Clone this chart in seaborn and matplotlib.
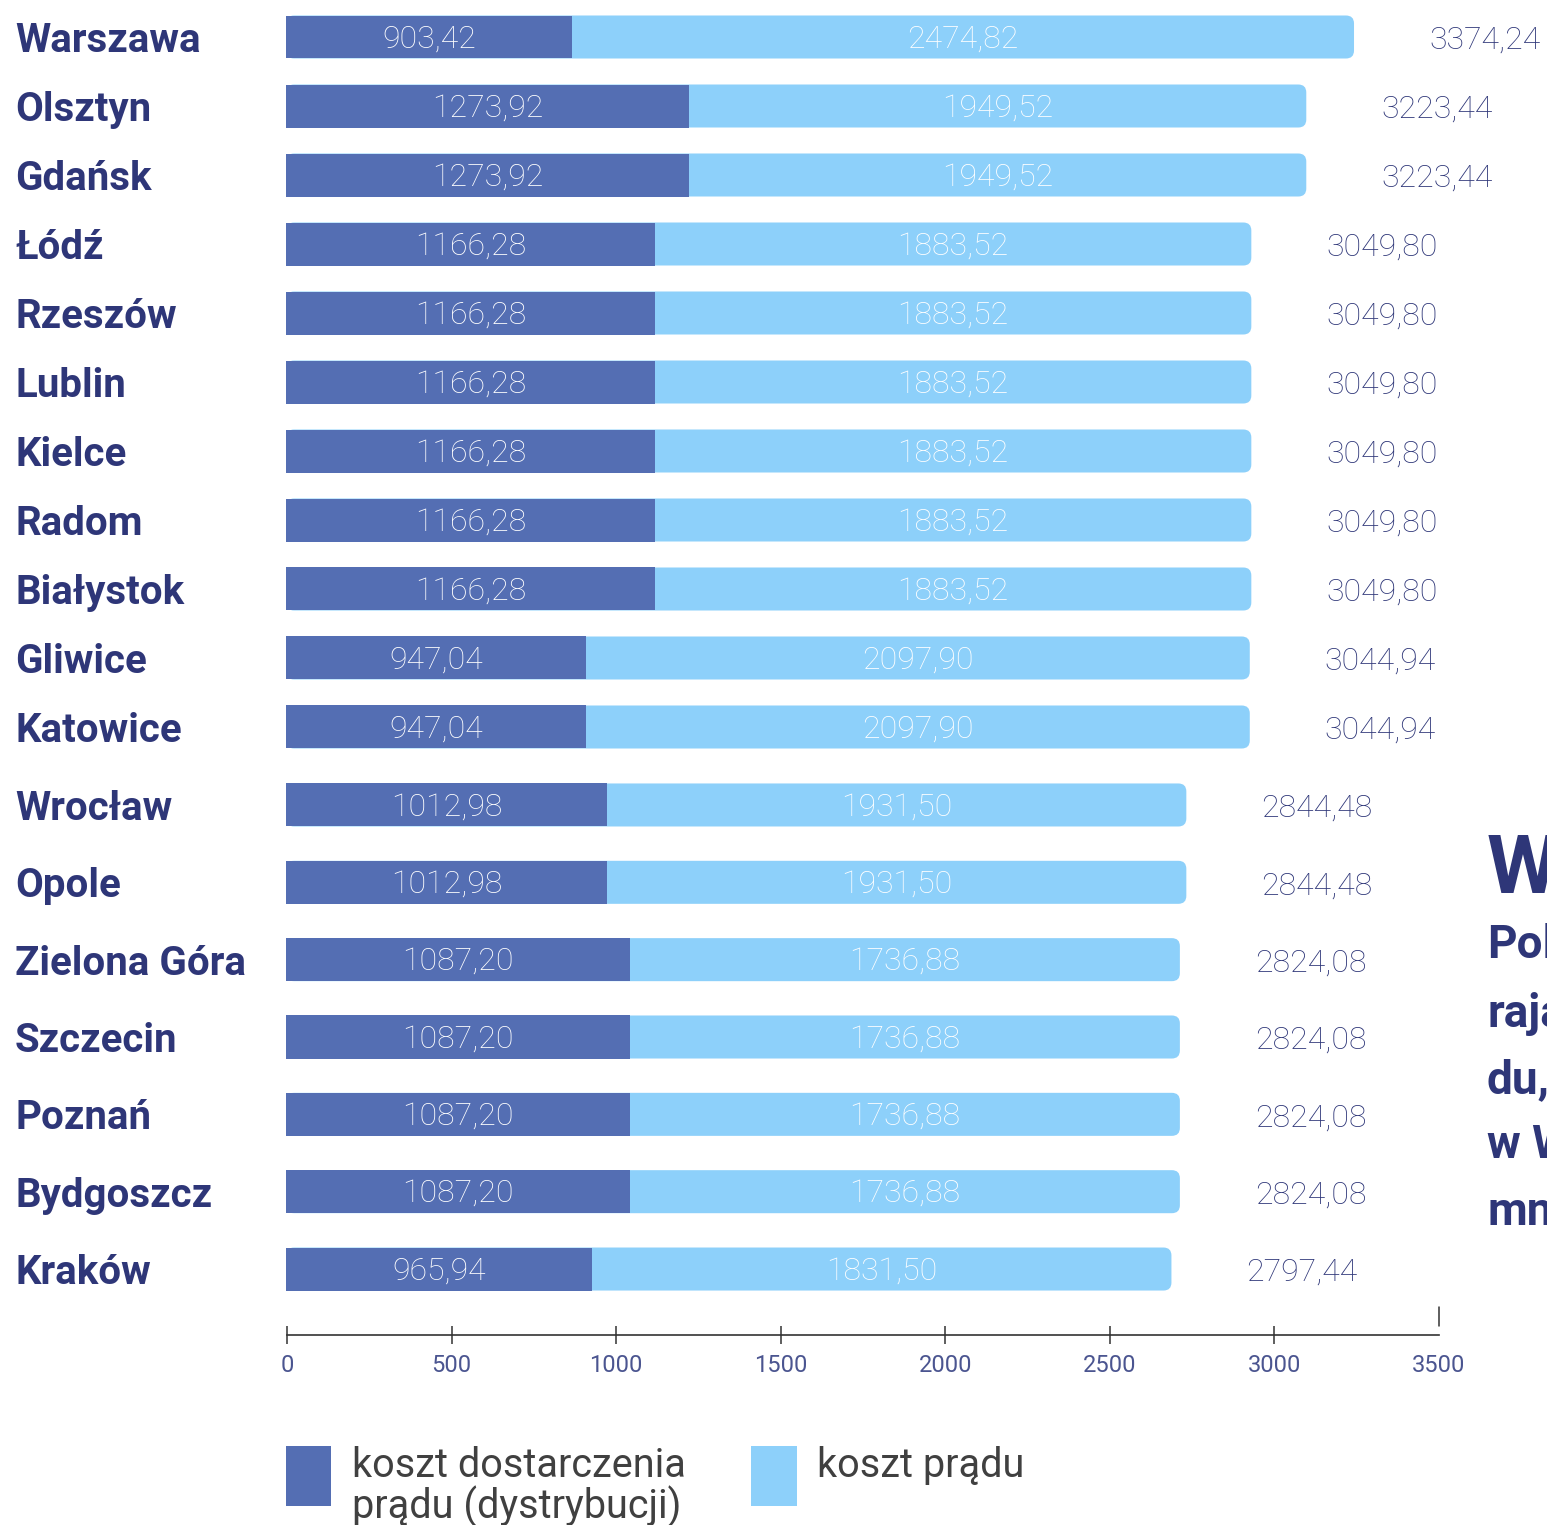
import matplotlib
matplotlib.use("Agg")
import matplotlib.pyplot as plt
import seaborn as sns
import pandas as pd
from matplotlib.patches import FancyBboxPatch, Rectangle

# ---------------- data ----------------
cities_top = ["Warszawa", "Olsztyn", "Gdańsk", "Łódź", "Rzeszów", "Lublin",
              "Kielce", "Radom", "Białystok", "Gliwice", "Katowice"]
dist_top = [903.42, 1273.92, 1273.92, 1166.28, 1166.28, 1166.28,
            1166.28, 1166.28, 1166.28, 947.04, 947.04]
energy_top = [2474.82, 1949.52, 1949.52, 1883.52, 1883.52, 1883.52,
              1883.52, 1883.52, 1883.52, 2097.90, 2097.90]
total_top = [3374.24, 3223.44, 3223.44, 3049.80, 3049.80, 3049.80,
             3049.80, 3049.80, 3049.80, 3044.94, 3044.94]

cities_bot = ["Wrocław", "Opole", "Zielona Góra", "Szczecin", "Poznań",
              "Bydgoszcz", "Kraków"]
dist_bot = [1012.98, 1012.98, 1087.20, 1087.20, 1087.20, 1087.20, 965.94]
energy_bot = [1931.50, 1931.50, 1736.88, 1736.88, 1736.88, 1736.88, 1831.50]
total_bot = [2844.48, 2844.48, 2824.08, 2824.08, 2824.08, 2824.08, 2797.44]

scale_ticks = [0, 500, 1000, 1500, 2000, 2500, 3000, 3500]
legend_labels = ["koszt dostarczenia\nprądu (dystrybucji)", "koszt prądu"]
side_big = "W"
side_lines = ["Pol", "raja", "du,", "w W", "mn"]

# ---------------- style ----------------
DARK = "#546EB3"
LIGHT = "#8DD0FA"
NAVY = "#2E3678"
TICKC = "#4B5590"
LEGC = "#404040"

sns.set_style("white")
plt.rcParams["font.family"] = ["Roboto", "DejaVu Sans"]

W, H = 1547, 1525
fig = plt.figure(figsize=(W / 100, H / 100), dpi=100)


def fmt(v):
    return f"{v:.2f}".replace(".", ",")


BAR_PX = 0.31652          # pixels per unit for the bars
AX_LEFT = 286


def draw_group(rect_px, cities, dist, energy, total, width):
    top, bottom = rect_px
    ax = fig.add_axes([AX_LEFT / W, 1 - bottom / H, (W - AX_LEFT) / W, (bottom - top) / H])
    ax.patch.set_visible(False)
    df = pd.DataFrame({"city": cities, "total": total, "dist": dist})
    sns.barplot(data=df, x="total", y="city", color=LIGHT, saturation=1,
                width=width, linewidth=0, errorbar=None, ax=ax)
    light = list(ax.patches)
    sns.barplot(data=df, x="dist", y="city", color=DARK, saturation=1,
                width=width, linewidth=0, errorbar=None, ax=ax)
    dark = [p for p in ax.patches if p not in light]
    ax.set_xlim(0, (W - AX_LEFT) / BAR_PX)
    ax.set_ylim(len(cities) - 0.5, -0.5)

    # rounded right ends for light bars
    t = ax.transData
    sx = t.transform((1, 0))[0] - t.transform((0, 0))[0]
    sy = abs(t.transform((0, 1))[1] - t.transform((0, 0))[1])
    r_px = 8
    r_x = r_px / sx
    aspect = (r_px / sy) / r_x
    for p in light:
        x0, y0 = p.get_x(), p.get_y()
        w_, h_ = p.get_width(), p.get_height()
        fb = FancyBboxPatch((x0, y0), w_, h_,
                            boxstyle=f"round,pad=0,rounding_size={r_x}",
                            mutation_aspect=aspect, facecolor=LIGHT,
                            edgecolor="none", linewidth=0, zorder=1)
        p.remove()
        ax.add_patch(fb)
    for p in dark:
        p.set_zorder(2)

    for i in range(len(cities)):
        ax.annotate(fmt(dist[i]), xy=(dist[i] / 2, i), xytext=(0, -1.2),
                    textcoords="offset points", ha="center", va="center",
                    color="white", fontsize=23, fontweight="light", zorder=3)
        ax.annotate(fmt(energy[i]), xy=(dist[i] + (total[i] - dist[i]) / 2, i),
                    xytext=(0, -1.2), textcoords="offset points",
                    ha="center", va="center", color="white", fontsize=23,
                    fontweight="light", zorder=3)
        ax.annotate(fmt(total[i]), xy=(total[i], i), xytext=(54, -2.5),
                    textcoords="offset points", ha="left", va="center",
                    color=NAVY, fontsize=23, fontweight="light")

    ax.set_xlabel("")
    ax.set_ylabel("")
    ax.set_xticks([])
    ax.set_yticks(range(len(cities)))
    ax.set_yticklabels(cities, ha="left", fontweight="bold", color=NAVY,
                       fontsize=29)
    ax.tick_params(axis="y", length=0, pad=(AX_LEFT - 15) * 0.72)
    sns.despine(ax=ax, left=True, bottom=True)
    return ax


draw_group((2.5, 761.5), cities_top, dist_top, energy_top, total_top, 43 / 69)
draw_group((766.3, 1307.7), cities_bot, dist_bot, energy_bot, total_bot, 43 / 77.3)

# ---------------- scale axis ----------------
ax3 = fig.add_axes([287 / W, 1 - 1335 / H, (1439 - 287) / W, 35 / H])
ax3.patch.set_visible(False)
ax3.set_xlim(scale_ticks[0], scale_ticks[-1])
ax3.set_ylim(0, 1)
ax3.set_yticks([])
ax3.set_xticks(scale_ticks)
ax3.set_xticklabels([str(v) for v in scale_ticks])
for s in ["top", "left", "right"]:
    ax3.spines[s].set_visible(False)
ax3.spines["bottom"].set_color("#333333")
ax3.spines["bottom"].set_linewidth(1.2)
ax3.tick_params(axis="x", bottom=True, direction="inout", length=13, width=1.1,
                color="#333333", labelsize=17, labelcolor=TICKC, pad=7.5)
ax3.xaxis.get_major_ticks()[-1].tick1line.set_visible(False)
ax3.axvline(scale_ticks[-1], ymin=(1335 - 1326) / 35, ymax=(1335 - 1307) / 35,
            color="#333333", lw=1.1, clip_on=False)

# ---------------- legend ----------------
fig.add_artist(Rectangle((286 / W, 1 - 1506 / H), 45 / W, 60 / H,
                         transform=fig.transFigure, facecolor=DARK, edgecolor="none"))
fig.add_artist(Rectangle((751 / W, 1 - 1506 / H), 46 / W, 60 / H,
                         transform=fig.transFigure, facecolor=LIGHT, edgecolor="none"))
l1a, l1b = legend_labels[0].split("\n")
fig.text(352 / W, 1 - 1477 / H, l1a, va="baseline", ha="left", fontsize=28.5, color=LEGC)
fig.text(352 / W, 1 - 1519 / H, l1b, va="baseline", ha="left", fontsize=28.5, color=LEGC)
fig.text(817 / W, 1 - 1477 / H, legend_labels[1], va="baseline", ha="left",
         fontsize=28.5, color=LEGC)

# ---------------- clipped side panel text ----------------
fig.text(1487 / W, 1 - 893 / H, side_big, va="baseline", ha="left", fontsize=59,
         fontweight="bold", color=NAVY)
for txt, base in zip(side_lines, [958, 1027, 1093, 1158, 1225]):
    fig.text(1487 / W, 1 - base / H, txt, va="baseline", ha="left", fontsize=33,
             fontweight="bold", color=NAVY)

fig.savefig("out.png", dpi=100)
